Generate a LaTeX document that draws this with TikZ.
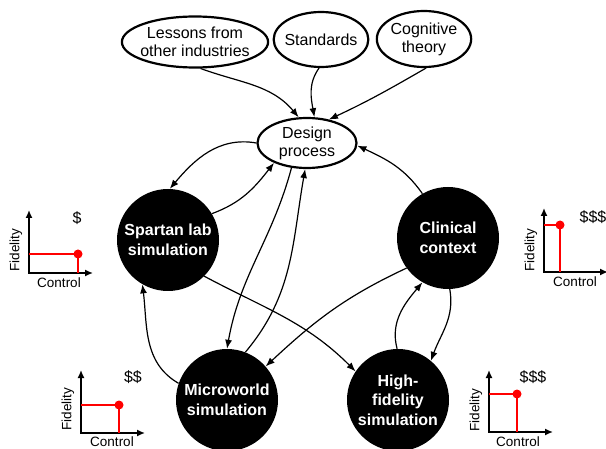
\documentclass[tikz,border=0pt]{standalone}
\usepackage{fontspec}
\setmainfont{Liberation Sans}
\usetikzlibrary{shapes.geometric,arrows.meta}

\tikzset{
  source/.style={draw,ellipse,line width=2.2pt,inner sep=0pt,align=center,font=\fontsize{16}{18}\selectfont},
  stage/.style={circle,fill=black,text=white,minimum size=102pt,inner sep=0pt,align=center,font=\fontsize{16}{19.5}\selectfont\bfseries},
  link/.style={->,line width=1.2pt},
  axis/.style={{Latex[length=8pt,width=7pt]}-{Latex[length=8pt,width=7pt]},line width=1.5pt},
  level/.style={red,line width=1.5pt},
  chartlbl/.style={inner sep=0pt,font=\fontsize{13.5}{15}\selectfont},
  costlbl/.style={inner sep=0pt,font=\fontsize{16}{18}\selectfont}
}

\begin{document}
\begin{tikzpicture}[x=1pt,y=1pt,>={Latex[length=9pt,width=7pt]}]
\useasboundingbox (0,0) rectangle (606,448);

\node[source,inner xsep=-3pt,minimum height=51pt] (les) at (195,406) {Lessons from\\other industries};
\node[source,inner xsep=-3pt,minimum height=55pt] (std) at (321,408.5) {Standards};
\node[source,minimum height=56pt] (cog) at (424,409) {Cognitive\\theory};
\node[source,minimum width=99pt,minimum height=50pt] (des) at (307,305) {Design\\process};

\node[stage] (spar) at (168,208) {Spartan lab\\simulation};
\node[stage] (clin) at (448,210) {Clinical\\context};
\node[stage] (micro) at (227,48) {Microworld\\simulation};
\node[stage] (hifi) at (398,48) {High-\\fidelity\\simulation};

\draw[link] (les.-78) to[out=-20,in=130] (des.108);
\draw[link] (std.-94) to[out=-125,in=100] (des.74);
\draw[link] (cog.-86) to[out=-150,in=25] (des.47);
\draw[link] (des.180) to[out=170,in=50] (spar.88);
\draw[link] (spar.31) to[out=20,in=-128] (des.-149);
\draw[link] (des.-122) to[out=-105,in=80] (micro.90);
\draw[link] (micro.69) to[out=50,in=-100] (des.-94);
\draw[link] (clin.120) to[out=125,in=-25] (des.-3);
\draw[link] (clin.-144) to[out=-155,in=43] (micro.41);
\draw[link] (spar.-45) to[out=-28,in=135] (hifi.146);
\draw[link] (hifi.91) to[out=105,in=-130] (clin.-120);
\draw[link] (clin.-88) to[out=-80,in=70] (hifi.50);
\draw[link] (micro.161) to[out=150,in=-83] (spar.-120);

\draw[axis] (29,238) -- (29,175) -- (93,175);
\draw[level] (29,194) -- (78,194) -- (78,175);
\fill[red] (78,194) circle (4.5);
\node[chartlbl,rotate=90] (fid1) at (16,198) {Fidelity};
\node[chartlbl] (ctl1) at (59,165) {Control};
\node[costlbl] (cost1) at (77,230) {\$};

\draw[axis] (544,240) -- (544,176) -- (608,176);
\draw[level] (544,223) -- (560,223) -- (560,176);
\fill[red] (560,223) circle (4.5);
\node[chartlbl,rotate=90] (fid2) at (531,198) {Fidelity};
\node[chartlbl] (ctl2) at (575,166) {Control};
\node[costlbl] (cost2) at (593,231) {\$\$\$};

\draw[axis] (81,78) -- (81,15) -- (145,15);
\draw[level] (81,43) -- (119,43) -- (119,15);
\fill[red] (119,43) circle (4.5);
\node[chartlbl,rotate=90] (fid3) at (68,39) {Fidelity};
\node[chartlbl] (ctl3) at (112,6.5) {Control};
\node[costlbl] (cost3) at (133,71) {\$\$};

\draw[axis] (489,78) -- (489,16) -- (553,16);
\draw[level] (489,54) -- (517,54) -- (517,16);
\fill[red] (517,54) circle (4.5);
\node[chartlbl,rotate=90] (fid4) at (476,38) {Fidelity};
\node[chartlbl] (ctl4) at (518,6.5) {Control};
\node[costlbl] (cost4) at (533,71) {\$\$\$};
\end{tikzpicture}
\end{document}
